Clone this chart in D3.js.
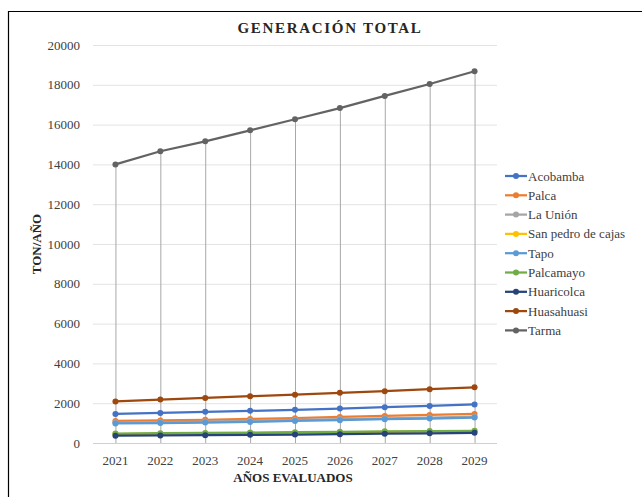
<!DOCTYPE html>
<html>
<head>
<meta charset="utf-8">
<script src="https://cdn.jsdelivr.net/npm/d3@7"></script>
<style>
  body { margin: 0; background: #fff; }
  svg { font-family: "Liberation Serif", "DejaVu Serif", serif; }
</style>
</head>
<body>
<div id="chart"></div>
<script>
const w = 642;
const h = 497;

const years = ["2021", "2022", "2023", "2024", "2025", "2026", "2027", "2028", "2029"];
const yTicks = [0, 2000, 4000, 6000, 8000, 10000, 12000, 14000, 16000, 18000, 20000];

const names = ["Acobamba", "Palca", "La Unión", "San pedro de cajas", "Tapo", "Palcamayo", "Huaricolca", "Huasahuasi", "Tarma"];
const colors = ["#4472c4", "#ed7d31", "#a5a5a5", "#ffc000", "#5b9bd5", "#70ad47", "#264478", "#9e480e", "#636363"];

const acobamba = [1460, 1510, 1565, 1615, 1665, 1730, 1800, 1865, 1935];
const palca = [1110, 1135, 1165, 1210, 1250, 1310, 1360, 1410, 1460];
const laUnion = [1030, 1050, 1080, 1120, 1160, 1200, 1240, 1280, 1320];
const sanPedro = [450, 465, 480, 500, 520, 540, 560, 580, 600];
const tapo = [980, 1000, 1030, 1060, 1110, 1145, 1195, 1230, 1280];
const palcamayo = [475, 490, 505, 525, 545, 565, 585, 600, 615];
const huaricolca = [365, 380, 395, 410, 425, 445, 465, 485, 510];
const huasahuasi = [2090, 2185, 2265, 2350, 2430, 2520, 2605, 2705, 2800];
const tarma = [14000, 14660, 15160, 15710, 16270, 16830, 17440, 18040, 18680];

const series = [acobamba, palca, laUnion, sanPedro, tapo, palcamayo, huaricolca, huasahuasi, tarma];

const plotLeft = 93, plotRight = 497, plotTop = 45, plotBottom = 443;

const svg = d3.select("#chart")
  .append("svg")
  .attr("width", w)
  .attr("height", h);

// outer border
svg.append("path")
  .attr("d", "M8.5," + h + " V11.5 H" + w)
  .attr("fill", "none")
  .attr("stroke", "#000")
  .attr("stroke-width", 1.2);

const xScale = d3.scalePoint()
  .domain(years)
  .range([plotLeft, plotRight])
  .padding(0.5);

const yScale = d3.scaleLinear()
  .domain([0, 20000])
  .range([plotBottom, plotTop]);

// gridlines
svg.append("g")
  .selectAll("line")
  .data(yTicks.slice(1))
  .enter()
  .append("line")
  .attr("x1", plotLeft)
  .attr("x2", plotRight)
  .attr("y1", (d) => yScale(d) + 0.5)
  .attr("y2", (d) => yScale(d) + 0.5)
  .attr("stroke", "#e3e3e3")
  .attr("stroke-width", 1);

// y tick labels
svg.append("g")
  .selectAll("text")
  .data(yTicks)
  .enter()
  .append("text")
  .attr("x", 80)
  .attr("y", (d) => yScale(d) + 4.5)
  .attr("text-anchor", "end")
  .attr("font-size", "13px")
  .attr("fill", "#404040")
  .text((d) => d);

// x axis line
svg.append("line")
  .attr("x1", plotLeft)
  .attr("x2", plotRight)
  .attr("y1", plotBottom + 0.5)
  .attr("y2", plotBottom + 0.5)
  .attr("stroke", "#d0d0d0")
  .attr("stroke-width", 1);

// x labels
svg.append("g")
  .selectAll("text")
  .data(years)
  .enter()
  .append("text")
  .attr("x", (d) => xScale(d))
  .attr("y", 465)
  .attr("text-anchor", "middle")
  .attr("font-size", "13px")
  .attr("fill", "#404040")
  .text((d) => d);

// drop lines from the highest series
svg.append("g")
  .selectAll("line")
  .data(years)
  .enter()
  .append("line")
  .attr("x1", (d) => xScale(d) + 0.5)
  .attr("x2", (d) => xScale(d) + 0.5)
  .attr("y1", (d, i) => yScale(d3.max(series, (s) => s[i])))
  .attr("y2", plotBottom)
  .attr("stroke", "#a8a8a8")
  .attr("stroke-width", 1);

const line = d3.line()
  .x((d, i) => xScale(years[i]))
  .y((d) => yScale(d));

series.forEach((s, k) => {
  svg.append("path")
    .datum(s)
    .attr("d", line)
    .attr("fill", "none")
    .attr("stroke", colors[k])
    .attr("stroke-width", 2.25);

  svg.append("g")
    .selectAll("circle")
    .data(s)
    .enter()
    .append("circle")
    .attr("cx", (d, i) => xScale(years[i]))
    .attr("cy", (d) => yScale(d))
    .attr("r", 3)
    .attr("fill", colors[k]);
});

// title
svg.append("text")
  .attr("x", 330)
  .attr("y", 33)
  .attr("text-anchor", "middle")
  .attr("font-size", "15px")
  .attr("font-weight", "bold")
  .attr("letter-spacing", "1.7px")
  .attr("fill", "#262626")
  .text("GENERACIÓN TOTAL");

// axis titles
svg.append("text")
  .attr("x", 293)
  .attr("y", 482)
  .attr("text-anchor", "middle")
  .attr("font-size", "13px")
  .attr("font-weight", "bold")
  .attr("fill", "#262626")
  .text("AÑOS EVALUADOS");

svg.append("text")
  .attr("transform", "translate(41,244) rotate(-90)")
  .attr("text-anchor", "middle")
  .attr("font-size", "13px")
  .attr("font-weight", "bold")
  .attr("fill", "#262626")
  .text("TON/AÑO");

// legend
const legend = svg.append("g")
  .selectAll("g")
  .data(names)
  .enter()
  .append("g")
  .attr("transform", (d, i) => "translate(505," + (176 + i * 19.3) + ")");

legend.append("line")
  .attr("x1", 0)
  .attr("x2", 22)
  .attr("stroke", (d, i) => colors[i])
  .attr("stroke-width", 2.25);

legend.append("circle")
  .attr("cx", 11)
  .attr("r", 3)
  .attr("fill", (d, i) => colors[i]);

legend.append("text")
  .attr("x", 23)
  .attr("y", 4.5)
  .attr("font-size", "13px")
  .attr("fill", "#404040")
  .text((d) => d);
</script>
</body>
</html>
